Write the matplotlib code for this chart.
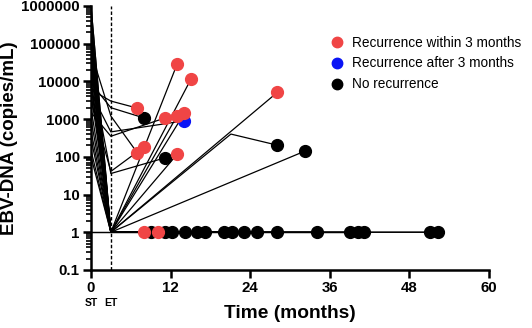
import matplotlib
matplotlib.use('Agg')
import numpy as np
from matplotlib import pyplot as plt, rcParams
from matplotlib import transforms
from matplotlib.ticker import LogLocator, FixedLocator, NullFormatter

rcParams['font.family'] = ['Liberation Sans', 'DejaVu Sans']

# 每个病人：ST值、ET值、随访时间与随访值、分组
st_vals = [6000, 9000, 60000, 20000, 3000, 5000, 1500, 100000, 80000, 50000,
           30000, 200000, 10000, 1000000, 40000, 300000, 100,
           1000000, 500000, 150000, 90000, 20000, 12000, 8000, 5000, 2000,
           1000, 500, 300, 150, 1, 1, 400000, 70000]
et_vals = [3000, 2000, 1200, 36, 41, 457, 350, 1, 1, 1,
           1, 1, 1, 1, 1, 1, 1,
           1, 1, 1, 1, 1, 1, 1, 1, 1,
           1, 1, 1, 1, 1, 1, 1, 1]
fu_times = [[7.0], [8.0], [7.0], [11.1], [8.0], [14.1], [11.1], [13.0], [15.1], [28.1],
            [13.0], [14.1], [13.0], [21.1, 28.1], [32.2], [8.0], [10.05],
            [9.05], [11.16], [12.16], [14.12], [16.03], [17.14], [20.05], [21.2], [23.07],
            [25.1], [28.1], [34.1], [39.0], [40.2], [41.2], [51.1], [52.3]]
fu_vals = [[1950], [1070], [126], [93], [182], [900], [1060], [29000], [11700], [5100],
           [1230], [1450], [117], [400, 203], [140], [1], [1],
           [1], [1], [1], [1], [1], [1], [1], [1], [1],
           [1], [1], [1], [1], [1], [1], [1], [1]]
groups = ['w', 'n', 'w', 'n', 'w', 'a', 'w', 'w', 'w', 'w',
          'w', 'w', 'w', 'n', 'n', 'w', 'w',
          'n', 'n', 'n', 'n', 'n', 'n', 'n', 'n', 'n',
          'n', 'n', 'n', 'n', 'n', 'n', 'n', 'n']

group_colors = {'w': '#F04545', 'a': '#0A14F5', 'n': 'black'}
group_labels = {'w': 'Recurrence within 3 months',
                'a': 'Recurrence after 3 months',
                'n': 'No recurrence'}

fig = plt.figure(figsize=(5.32, 3.28), dpi=100)
ax = fig.add_axes([0.171, 0.177, 0.748, 0.805])

# 连线
for st, et, ts, vs in zip(st_vals, et_vals, fu_times, fu_vals):
    xs = [0, 3] + ts
    ys = [st, et] + vs
    ax.plot(xs, ys, color='black', linewidth=0.9, zorder=2)

# 终点标记（黑色先画，红色、蓝色后画）
for g in ['n', 'a', 'w']:
    xs = [ts[-1] for ts, gg in zip(fu_times, groups) if gg == g]
    ys = [vs[-1] for vs, gg in zip(fu_vals, groups) if gg == g]
    ax.plot(xs, ys, 'o', color=group_colors[g], markersize=8.5,
            linestyle='none', zorder=3, clip_on=False)

# ET虚线
ax.axvline(3, color='black', linestyle=(0, (2.5, 1.5)), linewidth=1, zorder=1)

ax.set_yscale('log')
ax.set_ylim(0.1, 1000000)
ax.set_xlim(0, 60)
ax.yaxis.set_major_locator(FixedLocator([0.1, 1, 10, 100, 1000, 10000, 100000, 1000000]))
ax.set_yticklabels(['0.1', '1', '10', '100', '1000', '10000', '100000', '1000000'])
ax.yaxis.set_minor_locator(LogLocator(base=10, subs=np.arange(2, 10), numticks=20))
ax.yaxis.set_minor_formatter(NullFormatter())
ax.set_xticks([0, 12, 24, 36, 48, 60])

for s in ['top', 'right']:
    ax.spines[s].set_visible(False)
for s in ['left', 'bottom']:
    ax.spines[s].set_linewidth(1.8)

ax.tick_params(axis='both', which='major', direction='out', length=6, width=1.8,
               labelsize=10.8, pad=2)
ax.tick_params(axis='y', which='minor', direction='out', length=3.5, width=1.2)
for lab in ax.get_xticklabels() + ax.get_yticklabels():
    lab.set_fontweight('bold')

ax.set_xlabel('Time (months)', fontsize=13.8, fontweight='bold', labelpad=7)
ax.set_ylabel('EBV-DNA (copies/mL)', fontsize=13.5, fontweight='bold', labelpad=2)

# ST / ET 标签
trans = transforms.blended_transform_factory(ax.transData, fig.transFigure)
ax.text(0, 0.076, 'ST', transform=trans, ha='center', va='center',
        fontsize=7.5, fontweight='bold')
ax.text(3, 0.076, 'ET', transform=trans, ha='center', va='center',
        fontsize=7.5, fontweight='bold')

# 图例
handles = [plt.Line2D([], [], marker='o', color=group_colors[g], linestyle='none',
                      markersize=7.5) for g in ['w', 'a', 'n']]
ax.legend(handles, [group_labels[g] for g in ['w', 'a', 'n']],
          loc='upper left', bbox_to_anchor=(0.611, 0.912), bbox_transform=fig.transFigure,
          frameon=False, fontsize=9.8, handlelength=0.8, handletextpad=0.7,
          labelspacing=0.5, borderpad=0)

plt.savefig('out.png', dpi=100)
